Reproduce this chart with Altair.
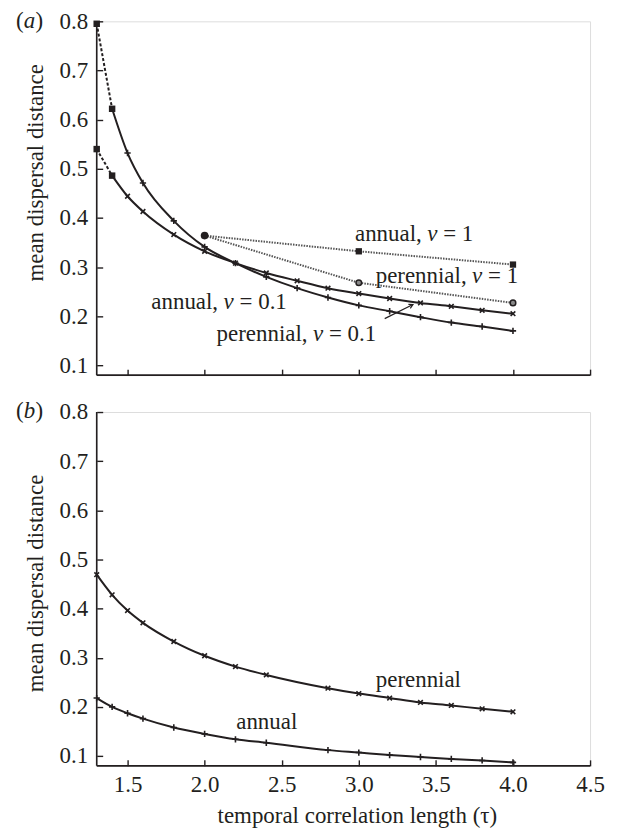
import altair as alt
import pandas as pd

FONT = "Liberation Serif"
INK = "#231f20"
FS = 23
W, H = 495, 355

# ---------------- data: panel (a) ----------------
tau_a = [1.4, 1.5, 1.6, 1.8, 2.0, 2.2, 2.4, 2.6, 2.8, 3.0, 3.2, 3.4, 3.6, 3.8, 4.0]
annual_v01 = [0.622, 0.532, 0.471, 0.394, 0.341, 0.308, 0.280, 0.257, 0.238, 0.222,
              0.210, 0.198, 0.187, 0.179, 0.170]
perennial_v01 = [0.486, 0.444, 0.413, 0.366, 0.332, 0.308, 0.288, 0.272, 0.257, 0.246,
                 0.236, 0.227, 0.220, 0.212, 0.205]
tau_dash = [1.3, 1.4]
annual_v01_dash = [0.795, 0.622]
perennial_v01_dash = [0.540, 0.486]
tau_v1 = [2.0, 3.0, 4.0]
annual_v1 = [0.364, 0.332, 0.305]
perennial_v1 = [0.364, 0.268, 0.227]

# labels panel (a): anchored where the italic "v" starts
lab_a_pre = ["annual,", "perennial,", "annual,", "perennial,"]
lab_a_post = ["= 1", "= 1", "= 0.1", "= 0.1"]
lab_a_tau = [3.444, 3.735, 2.123, 2.703]
lab_a_val = [0.352, 0.268, 0.215, 0.150]
arrow_tau = [3.168, 3.351]
arrow_val = [0.195, 0.2236]

# ---------------- data: panel (b) ----------------
tau_b = [1.3, 1.4, 1.5, 1.6, 1.8, 2.0, 2.2, 2.4, 2.8, 3.0, 3.2, 3.4, 3.6, 3.8, 4.0]
perennial_b = [0.469, 0.428, 0.396, 0.371, 0.333, 0.304, 0.282, 0.265, 0.238, 0.227,
               0.218, 0.209, 0.203, 0.196, 0.190]
annual_b = [0.218, 0.200, 0.187, 0.176, 0.158, 0.145, 0.134, 0.127, 0.112, 0.107,
            0.102, 0.098, 0.094, 0.091, 0.087]
lab_b_text = ["perennial", "annual"]
lab_b_tau = [3.110, 2.205]
lab_b_val = [0.240, 0.1556]

x_ticks = [1.5, 2.0, 2.5, 3.0, 3.5, 4.0, 4.5]
y_ticks = [0.1, 0.2, 0.3, 0.4, 0.5, 0.6, 0.7, 0.8]

PLUS = "M-1,0L1,0M0,-1L0,1"
CROSS = "M-1,-1L1,1M-1,1L1,-1"
CHEVRON = "M-2,-1.1L0,0L-2,1.1"

xscale = alt.Scale(domain=[1.3, 4.5], nice=False, zero=False)
yscale = alt.Scale(domain=[0.08, 0.8], nice=False, zero=False)


def x_enc(show_labels):
    if show_labels:
        ax = alt.Axis(values=x_ticks, format=".1f", grid=False, domain=False,
                      offset=-6, tickSize=6, tickWidth=1.4, tickColor=INK,
                      labelFont=FONT, labelFontSize=FS, labelColor=INK,
                      labelPadding=8, labelFlush=False, labelOverlap=False,
                      title="temporal correlation length (τ)", titleFont=FONT,
                      titleFontSize=FS, titleFontWeight="normal", titleColor=INK,
                      titleX=261, titleY=63, titleBaseline="alphabetic",
                      titleAlign="center")
    else:
        ax = alt.Axis(values=x_ticks, grid=False, domain=False, labels=False,
                      offset=-6, tickSize=6, tickWidth=1.4, tickColor=INK, title=None)
    return alt.X("tau:Q", scale=xscale, axis=ax)


def y_enc(title_y):
    ax = alt.Axis(values=y_ticks, format=".1f", grid=False, domain=False,
                  offset=-6, tickSize=6, tickWidth=1.4, tickColor=INK,
                  labelFont=FONT, labelFontSize=FS, labelColor=INK,
                  labelPadding=9, labelOverlap=False,
                  title="mean dispersal distance", titleFont=FONT, titleFontSize=FS,
                  titleFontWeight="normal", titleColor=INK, titleAngle=270,
                  titleX=-60.5, titleY=title_y, titleBaseline="alphabetic",
                  titleAlign="center")
    return alt.Y("val:Q", scale=yscale, axis=ax)


def frame():
    one = alt.Data(values=[{"k": 0}])
    left = alt.Chart(one).mark_rule(color=INK, strokeWidth=1.6).encode(
        x=alt.value(0), y=alt.value(0), y2=alt.value(H))
    bottom = alt.Chart(one).mark_rule(color=INK, strokeWidth=1.6).encode(
        x=alt.value(0), x2=alt.value(W), y=alt.value(H))
    return [left, bottom]


def panel_tag(letter, ybase):
    parts = [("(", -81, "normal"), (letter, -73.2, "italic"), (")", -61.5, "normal")]
    out = []
    for t, xp, st in parts:
        out.append(alt.Chart(alt.Data(values=[{"t": t}])).mark_text(
            align="left", baseline="alphabetic", font=FONT, fontSize=FS,
            fontStyle=st, color=INK).encode(
            x=alt.value(xp), y=alt.value(ybase), text="t:N"))
    return out


def series_df(xs, ys, name):
    return pd.DataFrame({"tau": xs, "val": ys, "series": name})


# ---------------- panel (a) ----------------
XA = x_enc(False)
YA = y_enc(151.5)

solid_a = pd.concat([series_df(tau_a, annual_v01, "annual"),
                     series_df(tau_a, perennial_v01, "perennial")])
dash_a = pd.concat([series_df(tau_dash, annual_v01_dash, "annual"),
                    series_df(tau_dash, perennial_v01_dash, "perennial")])
v1_a = pd.concat([series_df(tau_v1, annual_v1, "annual"),
                  series_df(tau_v1, perennial_v1, "perennial")])
plus_a = series_df(tau_a[1:], annual_v01[1:], "annual")
cross_a = series_df(tau_a[1:], perennial_v01[1:], "perennial")
squares_a = dash_a
start_v1 = series_df(tau_v1[:1], annual_v1[:1], "start")
sq_v1 = series_df(tau_v1[1:], annual_v1[1:], "annual")
circ_v1 = series_df(tau_v1[1:], perennial_v1[1:], "perennial")
lab_a = pd.DataFrame({"tau": lab_a_tau, "val": lab_a_val, "pre": lab_a_pre,
                      "v": ["v"] * 4, "post": lab_a_post})
arrow_df = pd.DataFrame({"tau": arrow_tau, "val": arrow_val})

layers_a = frame() + [
    alt.Chart(solid_a).mark_line(color=INK, strokeWidth=2, interpolate="monotone")
    .encode(x=XA, y=YA, detail="series:N"),
    alt.Chart(dash_a).mark_line(color=INK, strokeWidth=2, strokeDash=[3, 2])
    .encode(x=XA, y=YA, detail="series:N"),
    alt.Chart(v1_a).mark_line(color="#555555", strokeWidth=2, strokeDash=[1.5, 1.2])
    .encode(x=XA, y=YA, detail="series:N"),
    alt.Chart(plus_a).mark_point(shape=PLUS, filled=False, color=INK, strokeWidth=1.6,
                                 size=40, opacity=1).encode(x=XA, y=YA),
    alt.Chart(cross_a).mark_point(shape=CROSS, filled=False, color=INK, strokeWidth=1.6,
                                  size=22, opacity=1).encode(x=XA, y=YA),
    alt.Chart(squares_a).mark_point(shape="square", filled=True, color=INK, size=42,
                                    opacity=1).encode(x=XA, y=YA),
    alt.Chart(start_v1).mark_point(shape="circle", filled=True, color=INK, size=60,
                                   opacity=1).encode(x=XA, y=YA),
    alt.Chart(sq_v1).mark_point(shape="square", filled=True, color=INK, size=40,
                                opacity=1).encode(x=XA, y=YA),
    alt.Chart(circ_v1).mark_point(shape="circle", filled=True, fill="#8a8a8a",
                                  stroke=INK, strokeWidth=1.5, size=32, opacity=1)
    .encode(x=XA, y=YA),
    alt.Chart(lab_a).mark_text(align="right", baseline="alphabetic", dx=-5.5, font=FONT,
                               fontSize=FS, color=INK).encode(x=XA, y=YA, text="pre:N"),
    alt.Chart(lab_a).mark_text(align="left", baseline="alphabetic", font=FONT,
                               fontSize=FS, fontStyle="italic", color=INK)
    .encode(x=XA, y=YA, text="v:N"),
    alt.Chart(lab_a).mark_text(align="left", baseline="alphabetic", dx=16, font=FONT,
                               fontSize=FS, color=INK).encode(x=XA, y=YA, text="post:N"),
    alt.Chart(arrow_df).mark_line(color=INK, strokeWidth=1.2).encode(x=XA, y=YA),
    alt.Chart(arrow_df.iloc[1:]).mark_point(shape=CHEVRON, filled=False, color=INK,
                                            strokeWidth=1.2, size=16, angle=334,
                                            opacity=1).encode(x=XA, y=YA),
] + panel_tag("a", 7)

panel_a = alt.layer(*layers_a).properties(width=W, height=H)

# ---------------- panel (b) ----------------
XB = x_enc(True)
YB = y_enc(171.5)

solid_b = pd.concat([series_df(tau_b, perennial_b, "perennial"),
                     series_df(tau_b, annual_b, "annual")])
cross_b = series_df(tau_b, perennial_b, "perennial")
plus_b = series_df(tau_b, annual_b, "annual")
lab_b = pd.DataFrame({"tau": lab_b_tau, "val": lab_b_val, "t": lab_b_text})

layers_b = frame() + [
    alt.Chart(solid_b).mark_line(color=INK, strokeWidth=2, interpolate="monotone")
    .encode(x=XB, y=YB, detail="series:N"),
    alt.Chart(cross_b).mark_point(shape=CROSS, filled=False, color=INK, strokeWidth=1.6,
                                  size=22, opacity=1).encode(x=XB, y=YB),
    alt.Chart(plus_b).mark_point(shape=PLUS, filled=False, color=INK, strokeWidth=1.6,
                                 size=40, opacity=1).encode(x=XB, y=YB),
    alt.Chart(lab_b).mark_text(align="left", baseline="alphabetic", font=FONT,
                               fontSize=FS, color=INK).encode(x=XB, y=YB, text="t:N"),
] + panel_tag("b", 6)

panel_b = alt.layer(*layers_b).properties(width=W, height=H)

chart = alt.vconcat(panel_a, panel_b, spacing=37, bounds="flush").properties(
    padding={"left": 7, "top": 0, "right": 4, "bottom": 0}
).configure_view(stroke=None).configure(background="white")

chart.save("out.html", embed_options={"renderer": "svg", "actions": False})
